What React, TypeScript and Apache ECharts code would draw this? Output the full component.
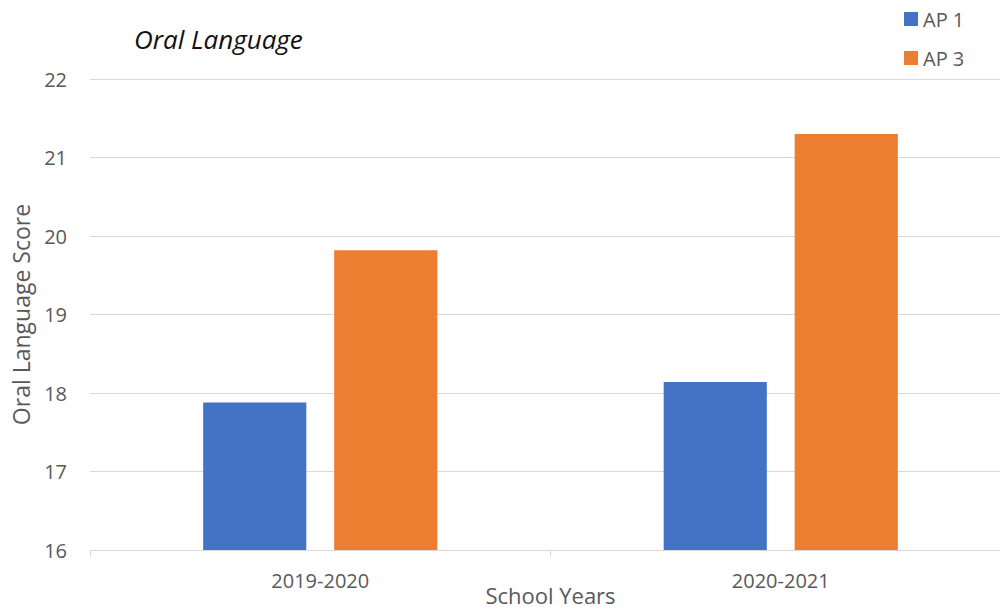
import React, { useEffect, useRef } from "react";
import * as echarts from "echarts";

const categories = ["2019-2020", "2020-2021"];
const seriesNames = ["AP 1", "AP 3"];
const ap1Values = [17.88, 18.14];
const ap3Values = [19.82, 21.3];
const yTicks = { min: 16, max: 22, interval: 1 };

const FONT = "'Open Sans', sans-serif";
const TEXT = "#595959";

export default function App() {
  const ref = useRef<HTMLDivElement>(null);
  useEffect(() => {
    document.body.style.margin = "0";
    const chart = echarts.init(ref.current!, null, { renderer: "svg" });
    chart.setOption({
      animation: false,
      backgroundColor: "#ffffff",
      title: {
        text: "Oral Language",
        left: 134,
        top: 26,
        padding: 0,
        textStyle: { fontFamily: FONT, fontStyle: "italic", fontWeight: "normal", fontSize: 26, color: "#111111" },
      },
      legend: {
        orient: "vertical",
        left: 904,
        top: 9,
        padding: 0,
        itemWidth: 14,
        itemHeight: 14,
        itemGap: 19,
        icon: "rect",
        data: seriesNames,
        textStyle: { fontFamily: FONT, fontSize: 20, color: TEXT },
      },
      grid: {
        left: 90,
        right: -11,
        top: 79,
        bottom: 65,
        containLabel: false,
        outerBoundsMode: "none",
      },
      xAxis: {
        type: "category",
        data: categories,
        name: "School Years",
        nameLocation: "middle",
        nameGap: 34,
        nameMoveOverlap: false,
        nameTextStyle: { fontFamily: FONT, fontSize: 22, color: TEXT },
        axisLine: { lineStyle: { color: "#d9d9d9", width: 1 } },
        axisTick: { show: true, length: 7, lineStyle: { color: "#d9d9d9" } },
        axisLabel: { fontFamily: FONT, fontSize: 20, color: TEXT, margin: 20 },
      },
      yAxis: {
        type: "value",
        min: yTicks.min,
        max: yTicks.max,
        interval: yTicks.interval,
        name: "Oral Language Score",
        nameLocation: "middle",
        nameRotate: 90,
        nameGap: 58,
        nameMoveOverlap: false,
        nameTextStyle: { fontFamily: FONT, fontSize: 23, color: TEXT },
        axisLine: { show: false },
        axisTick: { show: false },
        axisLabel: { fontFamily: FONT, fontSize: 20, color: TEXT, margin: 23 },
        splitLine: { lineStyle: { color: "#d9d9d9", width: 1 } },
      },
      series: [
        {
          name: seriesNames[0],
          type: "bar",
          data: ap1Values,
          barWidth: "22.4%",
          barGap: "27%",
          itemStyle: { color: "#4472C4" },
        },
        {
          name: seriesNames[1],
          type: "bar",
          data: ap3Values,
          barWidth: "22.4%",
          barGap: "27%",
          itemStyle: { color: "#ED7D31" },
        },
      ],
    });
    return () => chart.dispose();
  }, []);
  return (
    <div
      ref={ref}
      style={{ position: "fixed", left: 0, top: 0, width: 1000, height: 615, overflow: "hidden" }}
    />
  );
}
